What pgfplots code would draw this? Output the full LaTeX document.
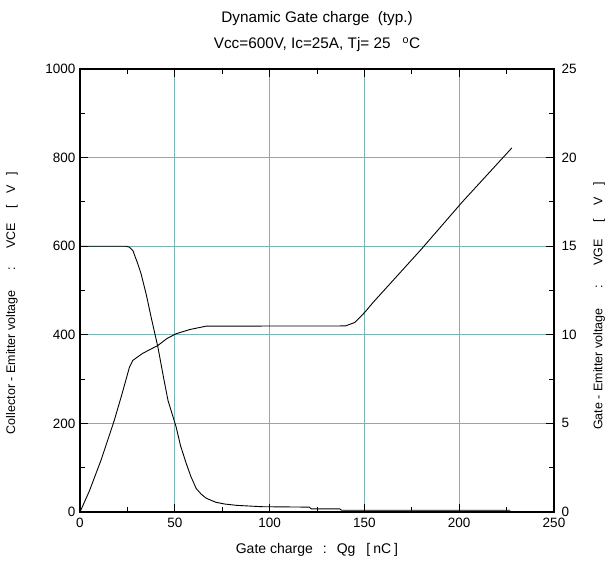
\documentclass[border=0pt]{standalone}
\usepackage{fontspec}
\setmainfont{Liberation Sans}
\usepackage{pgfplots}
\pgfplotsset{compat=1.18}
\definecolor{gridc}{RGB}{120,180,180}

\begin{document}
\begin{tikzpicture}
\pgfplotsset{
  every axis/.append style={
    scale only axis, width=474pt, height=443pt,
    tick align=inside,
    major tick length=8pt, minor tick length=5pt,
    every tick/.style={black, line width=1pt},
    axis line style={line width=1.6pt},
    tick label style={font=\fontsize{13.5}{16}\selectfont},
    /pgf/number format/assume math mode=true,
    /pgf/number format/1000 sep={},
  },
}
\begin{axis}[
  clip=false,
  xmin=0, xmax=250, ymin=0, ymax=1000,
  xtick={0,50,...,250}, ytick={0,200,...,1000},
  minor x tick num=1, minor y tick num=1,
  xtick pos=both, ytick pos=left,
  grid=major, major grid style={gridc, line width=0.8pt},
  xticklabel style={yshift=-3pt},
  yticklabel style={xshift=-1pt},
  xlabel={Gate charge\hspace{10pt}:\hspace{10pt}Qg\hspace{11pt}[\hspace{3pt}nC\hspace{3pt}]},
  ylabel={Collector - Emitter voltage\hspace{20pt}:\hspace{18pt}VCE\hspace{15pt}[\hspace{11pt}V\hspace{10pt}]},
  xlabel style={font=\fontsize{14}{16}\selectfont, at={(axis description cs:0.5,-0.0858)}, anchor=center},
  ylabel style={font=\fontsize{12.5}{14}\selectfont, at={(axis description cs:-0.1435,0.472)}, anchor=center},
]
\addplot[black, line width=0.9pt] coordinates {
  (0,600) (24,600) (26,598) (27.9,590) (30.5,560) (32.2,538) (35,490)
  (37.5,440) (41.1,372) (44,305) (46.4,252) (50.7,192) (53,150)
  (56,110) (58.5,80) (61.3,53) (64,40) (66.6,31) (71.6,22) (76.3,18)
  (82.7,15) (95.7,12) (121,11) (122,7) (137,7) (138,4) (227,4)
};
\node[font=\fontsize{15.3}{17}\selectfont] at (rel axis cs:0.5,1) [yshift=50pt] {Dynamic Gate charge\ \ (typ.)};
\node[font=\fontsize{15.3}{17}\selectfont] at (rel axis cs:0.5,1) [yshift=24pt] {Vcc=600V, Ic=25A, Tj= 25\hspace{12pt}\textsuperscript{o}C};
\coordinate (bl) at (rel axis cs:0,0);
\coordinate (tr) at (rel axis cs:1,1);
\end{axis}
\begin{axis}[
  xmin=0, xmax=250, ymin=0, ymax=25,
  axis x line=none, axis y line*=right,
  ytick={0,5,...,25}, minor y tick num=1,
  yticklabel style={xshift=4pt},
  ylabel={Gate - Emitter voltage\hspace{20pt}:\hspace{19pt}VGE\hspace{17pt}[\hspace{13pt}V\hspace{12pt}]},
  ylabel style={font=\fontsize{12.5}{14}\selectfont, at={(axis description cs:1.095,0.465)}, anchor=center},
]
\addplot[black, line width=0.9pt] coordinates {
  (0,0) (5,1.2) (11.1,2.93) (18.1,5.18) (22,6.6) (26.1,8.18) (27.9,8.56)
  (33,8.95) (41.1,9.4) (46,9.8) (50.7,10.06) (58,10.3) (66.6,10.49)
  (140,10.5) (145,10.7) (150.3,11.28) (154.7,11.84) (180.2,14.85)
  (201.4,17.47) (227.8,20.55)
};
\end{axis}
\pgfresetboundingbox
\path ([shift={(-80pt,-51pt)}]bl) rectangle ([shift={(56pt,69pt)}]tr);
\end{tikzpicture}
\end{document}
